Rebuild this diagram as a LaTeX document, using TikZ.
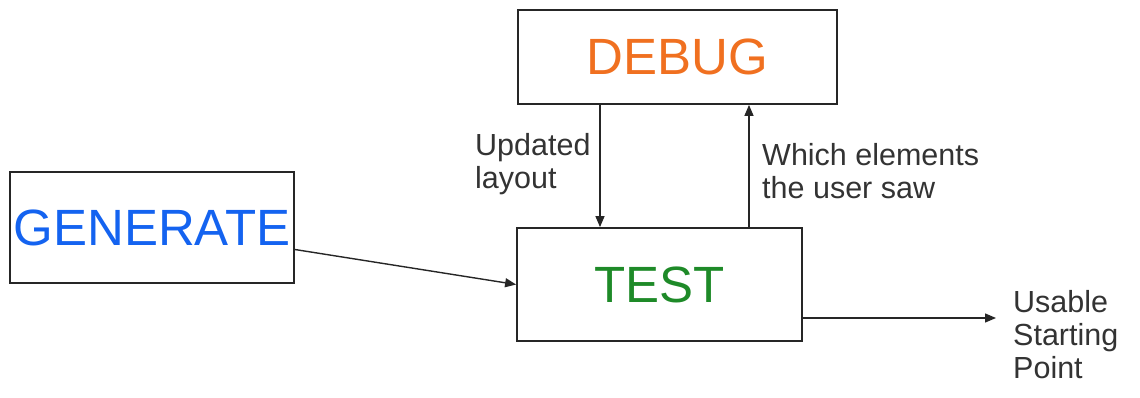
\documentclass[tikz,border=0pt]{standalone}
\usepackage{fontspec}
\setmainfont{Liberation Sans}
\usetikzlibrary{arrows.meta}
\definecolor{genblue}{HTML}{1463F0}
\definecolor{dbgorange}{HTML}{F07020}
\definecolor{testgreen}{HTML}{1E8A28}
\definecolor{labelgray}{HTML}{333333}
\definecolor{framegray}{HTML}{262626}
\tikzset{
  stagebox/.style={draw=framegray, line width=1.8pt, inner sep=0pt, anchor=center,
    font=\fontsize{51}{51}\selectfont},
  flow/.style={draw=framegray, line width=1.4pt, -{Triangle[length=11pt,width=9pt]}},
  caption/.style={text=labelgray, inner sep=0pt, align=left, anchor=north west,
    font=\fontsize{30.5}{33}\selectfont}
}
\begin{document}
\begin{tikzpicture}[x=1pt,y=-1pt]
  \useasboundingbox (0,0) rectangle (1140,398);
  % stages
  \node[stagebox, minimum width=284pt, minimum height=111pt, text=genblue]
    (gen) at (152,227.5) {GENERATE};
  \node[stagebox, minimum width=319pt, minimum height=94pt, text=dbgorange]
    (dbg) at (677.5,57) {DEBUG};
  \node[stagebox, minimum width=285pt, minimum height=113pt, text=testgreen]
    (test) at (659.5,284.5) {TEST};
  % loose end of the output arrow
  \coordinate (out) at (996,318);
  % connectors
  \draw[flow] ([yshift=-22pt]gen.east) -- (test.west);
  \draw[flow] (dbg.south -| 600,0) -- (test.north -| 600,0);
  \draw[flow] (test.north -| 749,0) -- (dbg.south -| 749,0);
  \draw[flow] (test.east |- out) -- (out);
  % connector labels
  \node[caption] (upd) at (475,133) {Updated\\layout};
  \node[caption] (which) at (762,143) {Which elements\\the user saw};
  \node[caption] (usable) at (1013,290) {Usable\\Starting\\Point};
\end{tikzpicture}
\end{document}
